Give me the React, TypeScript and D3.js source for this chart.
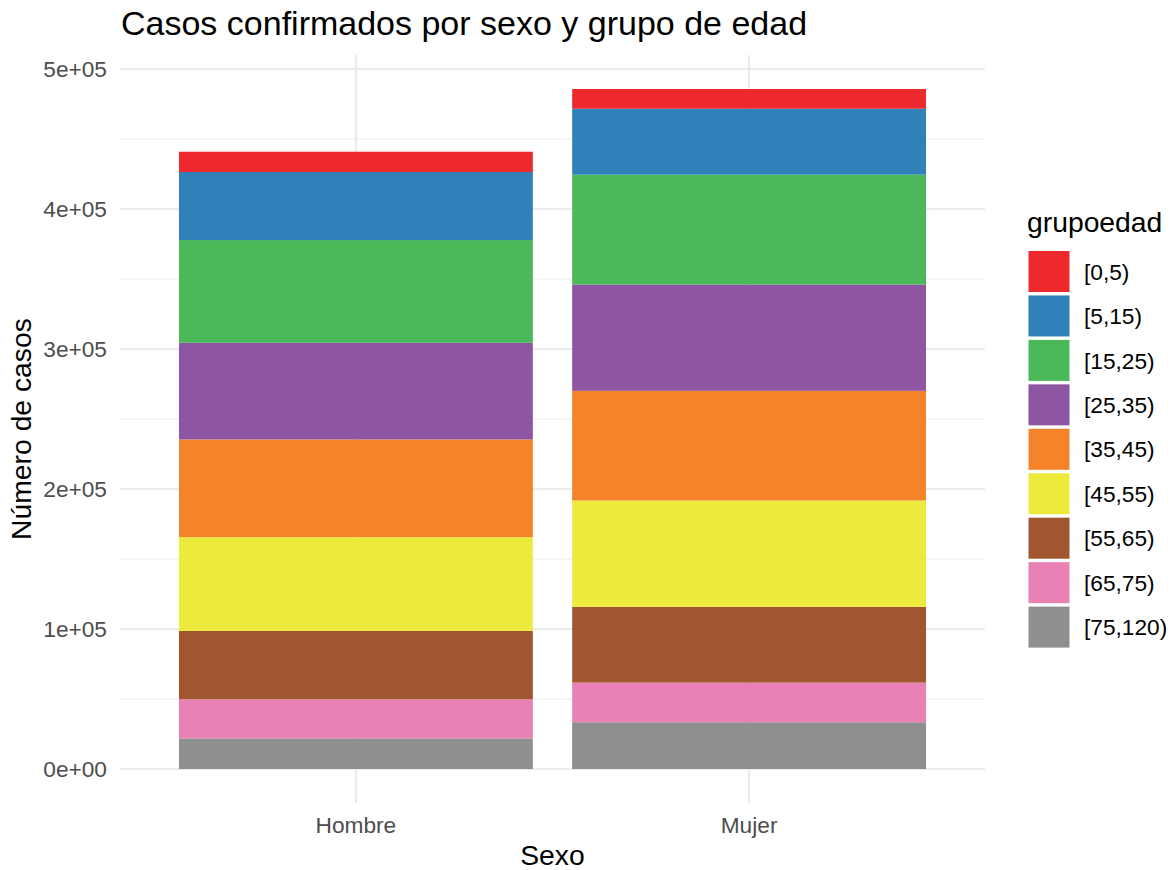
import { useEffect, useRef } from 'react';
import * as d3 from 'd3';

// Data (cases, thousands)
const sexos = ['Hombre', 'Mujer'];
const grupos = ['[0,5)', '[5,15)', '[15,25)', '[25,35)', '[35,45)', '[45,55)', '[55,65)', '[65,75)', '[75,120)'];
const hombre = [14.5, 48.6, 73.4, 69.0, 69.8, 67.0, 48.8, 27.9, 21.9];
const mujer = [14.1, 47.1, 78.4, 76.0, 78.3, 76.0, 54.1, 28.3, 33.4];
const colores = ['#EE292D', '#3080BA', '#4BB85A', '#8E55A2', '#F5832A', '#EDEA3E', '#A0572F', '#EA81B4', '#8E8F91'];
const yTicks = [0, 100000, 200000, 300000, 400000, 500000];
const yTickLabels = ['0e+00', '1e+05', '2e+05', '3e+05', '4e+05', '5e+05'];
const yMinor = [50000, 150000, 250000, 350000, 450000];

const W = 1173;
const H = 870;
const panel = { left: 120, right: 985, top: 55, bottom: 803 };
const font = '"Liberation Sans", Arial, Helvetica, sans-serif';
const gridColor = '#EBEBEB';

function drawChart(el: SVGSVGElement) {
  const svg = d3.select(el);
  svg.selectAll('*').remove();

  const rows = sexos.map((s, i) => {
    const vals = i === 0 ? hombre : mujer;
    const row: any = { sexo: s };
    grupos.forEach((g, j) => { row[g] = vals[j] * 1000; });
    return row;
  });

  // bottom of the stack is the last age group
  const stackKeys = grupos.slice().reverse();
  const series = d3.stack().keys(stackKeys)(rows);

  const maxTotal = d3.max(rows, (r: any) => d3.sum(grupos, g => r[g])) as number;

  const x = d3.scaleBand()
    .domain(sexos)
    .range([panel.left, panel.right])
    .paddingInner(0.1)
    .paddingOuter(0.15);

  const y = d3.scaleLinear()
    .domain([-0.05 * maxTotal, 1.05 * maxTotal])
    .range([panel.bottom, panel.top]);

  const color = d3.scaleOrdinal<string, string>().domain(grupos).range(colores);

  // grid
  const grid = svg.append('g');
  grid.selectAll('line.minor')
    .data(yMinor)
    .join('line')
    .attr('x1', panel.left).attr('x2', panel.right)
    .attr('y1', d => y(d)).attr('y2', d => y(d))
    .attr('stroke', gridColor).attr('stroke-width', 1.1);
  grid.selectAll('line.major')
    .data(yTicks)
    .join('line')
    .attr('x1', panel.left).attr('x2', panel.right)
    .attr('y1', d => y(d)).attr('y2', d => y(d))
    .attr('stroke', gridColor).attr('stroke-width', 2.2);
  grid.selectAll('line.vmajor')
    .data(sexos)
    .join('line')
    .attr('x1', d => (x(d) as number) + x.bandwidth() / 2)
    .attr('x2', d => (x(d) as number) + x.bandwidth() / 2)
    .attr('y1', panel.top).attr('y2', panel.bottom)
    .attr('stroke', gridColor).attr('stroke-width', 2.2);

  // bars
  svg.append('g')
    .selectAll('g')
    .data(series)
    .join('g')
    .attr('fill', d => color(d.key))
    .selectAll('rect')
    .data(d => d)
    .join('rect')
    .attr('x', (d: any) => x(d.data.sexo) as number)
    .attr('width', x.bandwidth())
    .attr('y', d => y(d[1]))
    .attr('height', d => y(d[0]) - y(d[1]));

  // y axis labels
  svg.append('g')
    .selectAll('text')
    .data(yTicks)
    .join('text')
    .attr('x', 107)
    .attr('y', d => y(d))
    .attr('dy', '0.36em')
    .attr('text-anchor', 'end')
    .attr('font-family', font)
    .attr('font-size', 22.7)
    .attr('fill', '#4D4D4D')
    .text((d, i) => yTickLabels[i]);

  // x axis labels
  svg.append('g')
    .selectAll('text')
    .data(sexos)
    .join('text')
    .attr('x', d => (x(d) as number) + x.bandwidth() / 2)
    .attr('y', 833)
    .attr('text-anchor', 'middle')
    .attr('font-family', font)
    .attr('font-size', 22.7)
    .attr('fill', '#4D4D4D')
    .text(d => d);

  // axis titles
  svg.append('text')
    .attr('x', (panel.left + panel.right) / 2)
    .attr('y', 865)
    .attr('text-anchor', 'middle')
    .attr('font-family', font)
    .attr('font-size', 28.3)
    .attr('fill', '#000')
    .text('Sexo');

  svg.append('text')
    .attr('transform', `translate(31, ${(panel.top + panel.bottom) / 2}) rotate(-90)`)
    .attr('text-anchor', 'middle')
    .attr('font-family', font)
    .attr('font-size', 28.3)
    .attr('fill', '#000')
    .text('Número de casos');

  // title
  svg.append('text')
    .attr('x', 121)
    .attr('y', 35)
    .attr('font-family', font)
    .attr('font-size', 34)
    .attr('fill', '#000')
    .text('Casos confirmados por sexo y grupo de edad');

  // legend
  const legend = svg.append('g').attr('transform', 'translate(1027, 0)');
  legend.append('text')
    .attr('x', 0)
    .attr('y', 232)
    .attr('font-family', font)
    .attr('font-size', 28.3)
    .attr('fill', '#000')
    .text('grupoedad');

  const keyStep = 44.45;
  const items = legend.selectAll('g.item')
    .data(grupos)
    .join('g')
    .attr('transform', (d, i) => `translate(0, ${249 + i * keyStep})`);
  items.append('rect')
    .attr('x', 1.5)
    .attr('y', 2)
    .attr('width', 41)
    .attr('height', 41)
    .attr('fill', d => color(d));
  items.append('text')
    .attr('x', 57)
    .attr('y', 22.5)
    .attr('dy', '0.36em')
    .attr('font-family', font)
    .attr('font-size', 22.7)
    .attr('fill', '#000')
    .text(d => d);
}

export default function App() {
  const ref = useRef<SVGSVGElement>(null);
  useEffect(() => {
    if (ref.current) drawChart(ref.current);
  }, []);
  return (
    <svg ref={ref} width={W} height={H} style={{ display: 'block', position: 'absolute', left: 0, top: 0, background: '#fff' }} />
  );
}
